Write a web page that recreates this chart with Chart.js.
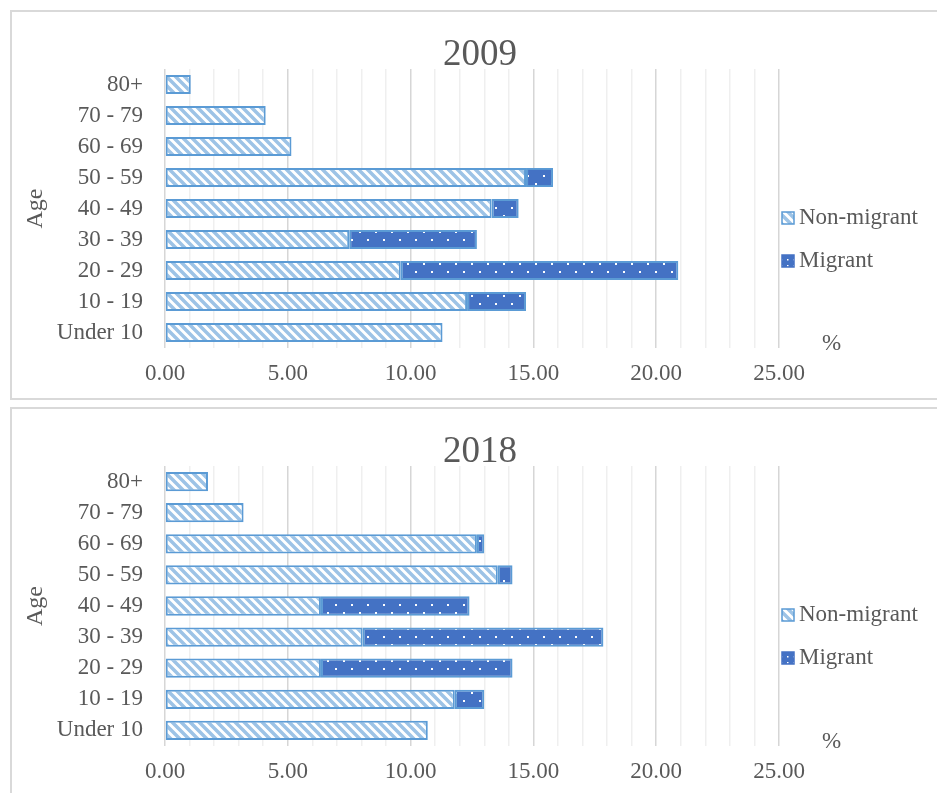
<!DOCTYPE html>
<html>
<head>
<meta charset="utf-8">
<script src="https://cdn.jsdelivr.net/npm/chart.js@4"></script>
<style>
  html, body { margin: 0; padding: 0; background: #fff; }
  body { width: 937px; height: 793px; overflow: hidden; position: relative; }
  .box { position: absolute; left: 10px; width: 940px; border: 2px solid #d9d9d9; box-sizing: border-box; background: #fff; }
  #box1 { top: 10px; height: 390px; }
  #box2 { top: 407px; height: 400px; }
  canvas { position: absolute; left: 0; top: 0; }
</style>
</head>
<body>
<div class="box" id="box1"><canvas id="chart2009" width="925" height="386"></canvas></div>
<div class="box" id="box2"><canvas id="chart2018" width="925" height="384"></canvas></div>
<script>
// data (Excel order: bottom category first)
const ageGroups = ['Under 10', '10 - 19', '20 - 29', '30 - 39', '40 - 49', '50 - 59', '60 - 69', '70 - 79', '80+'];

const nonMigrant2009 = [11.3, 12.3, 9.6, 7.5, 13.3, 14.7, 5.15, 4.1, 1.05];
const migrant2009    = [null, 2.4, 11.3, 5.2, 1.1, 1.1, null, null, null];

const nonMigrant2018 = [10.7, 11.8, 6.35, 8.05, 6.35, 13.55, 12.7, 3.2, 1.75];
const migrant2018    = [null, 1.2, 7.8, 9.8, 6.05, 0.6, 0.3, null, null];

const seriesNames = ['Non-migrant', 'Migrant'];
const xMax = 25;

const TEXT = '#595959';
const SERIF = '"Liberation Serif", "Times New Roman", serif';

/* patterns */
function stripePattern() {
  const n = 9;
  const c = document.createElement('canvas');
  c.width = n; c.height = n;
  const g = c.getContext('2d');
  g.fillStyle = '#fff';
  g.fillRect(0, 0, n, n);
  g.strokeStyle = '#9dc3e6';
  g.lineWidth = 3.5;
  g.beginPath();
  g.moveTo(-2, -2); g.lineTo(n + 2, n + 2);
  g.moveTo(-2, n - 2); g.lineTo(2, n + 2);
  g.moveTo(n - 2, -2); g.lineTo(n + 2, 2);
  g.stroke();
  return g.createPattern(c, 'repeat');
}

function dotPattern() {
  const c = document.createElement('canvas');
  c.width = 16; c.height = 16;
  const g = c.getContext('2d');
  g.fillStyle = '#4472c4';
  g.fillRect(0, 0, 16, 16);
  g.fillStyle = '#fff';
  g.fillRect(3, 3, 2, 2);
  g.fillRect(11, 11, 2, 2);
  return g.createPattern(c, 'repeat');
}

function smallDotPattern() {
  const c = document.createElement('canvas');
  c.width = 6; c.height = 6;
  const g = c.getContext('2d');
  g.fillStyle = '#4472c4';
  g.fillRect(0, 0, 6, 6);
  g.fillStyle = '#fff';
  g.fillRect(1, 1, 1.5, 1.5);
  return g.createPattern(c, 'repeat');
}

const stripes = stripePattern();
const dots = dotPattern();
const legendDots = smallDotPattern();

/* title, legend and "%" label placed like Excel does */
const excelDecor = {
  id: 'excelDecor',
  afterDraw(chart, args, opts) {
    const { ctx, chartArea } = chart;
    ctx.save();
    ctx.fillStyle = TEXT;
    ctx.textBaseline = 'middle';

    // chart title, centred on the whole chart box
    ctx.textAlign = 'center';
    ctx.font = '37px ' + SERIF;
    ctx.fillText(opts.title, 468, chartArea.top - 14);

    // legend
    const x = chartArea.right + 3;
    const rows = [chartArea.top + 149, chartArea.top + 192];
    const fills = [stripes, legendDots];
    const borders = ['#5b9bd5', '#4472c4'];
    ctx.textAlign = 'left';
    ctx.font = '23px ' + SERIF;
    rows.forEach((y, i) => {
      ctx.fillStyle = fills[i];
      ctx.fillRect(x, y - 6, 12, 12);
      ctx.strokeStyle = borders[i];
      ctx.lineWidth = 1.5;
      ctx.strokeRect(x, y - 6, 12, 12);
      ctx.fillStyle = TEXT;
      ctx.fillText(seriesNames[i], x + 17, y);
    });
    ctx.fillText('%', chartArea.right + 43, chartArea.bottom - 4);
    ctx.restore();
  }
};

function makeChart(id, year, nonMigrant, migrant, xHeight) {
  return new Chart(document.getElementById(id), {
    type: 'bar',
    data: {
      labels: ageGroups,
      datasets: [
        {
          label: seriesNames[0],
          data: nonMigrant,
          backgroundColor: stripes,
          borderColor: '#5b9bd5',
          borderWidth: 2,
          borderSkipped: false,
          categoryPercentage: 1,
          barPercentage: 0.62
        },
        {
          label: seriesNames[1],
          data: migrant,
          backgroundColor: dots,
          borderColor: '#5b9bd5',
          borderWidth: 2,
          borderSkipped: false,
          categoryPercentage: 1,
          barPercentage: 0.62
        }
      ]
    },
    options: {
      indexAxis: 'y',
      responsive: false,
      animation: false,
      layout: { padding: { left: 0, right: 158, top: 57, bottom: 0 } },
      scales: {
        x: {
          stacked: true,
          min: 0,
          max: xMax,
          border: { display: false },
          grid: {
            drawTicks: false,
            lineWidth: 1.5,
            color: c => (c.tick && c.tick.value % 5 === 0) ? '#d6d6d6' : '#efefef'
          },
          ticks: {
            stepSize: 1,
            autoSkip: false,
            maxRotation: 0,
            minRotation: 0,
            padding: 12,
            color: TEXT,
            font: { family: SERIF, size: 23 },
            callback: v => v % 5 === 0 ? v.toFixed(2) : ''
          },
          afterFit: s => { s.height = xHeight; }
        },
        y: {
          stacked: true,
          reverse: true,
          border: { display: false },
          grid: { display: false, drawTicks: false },
          ticks: {
            padding: 22,
            color: TEXT,
            font: { family: SERIF, size: 23 }
          },
          title: {
            display: true,
            text: 'Age',
            color: TEXT,
            padding: { top: 9, bottom: 0 },
            font: { family: SERIF, size: 24 }
          },
          afterFit: s => { s.width = 153; }
        }
      },
      plugins: {
        legend: { display: false },
        tooltip: { enabled: false },
        title: { display: false },
        excelDecor: { title: year }
      }
    },
    plugins: [excelDecor]
  });
}

makeChart('chart2009', '2009', nonMigrant2009, migrant2009, 50);
makeChart('chart2018', '2018', nonMigrant2018, migrant2018, 47);
</script>
</body>
</html>
